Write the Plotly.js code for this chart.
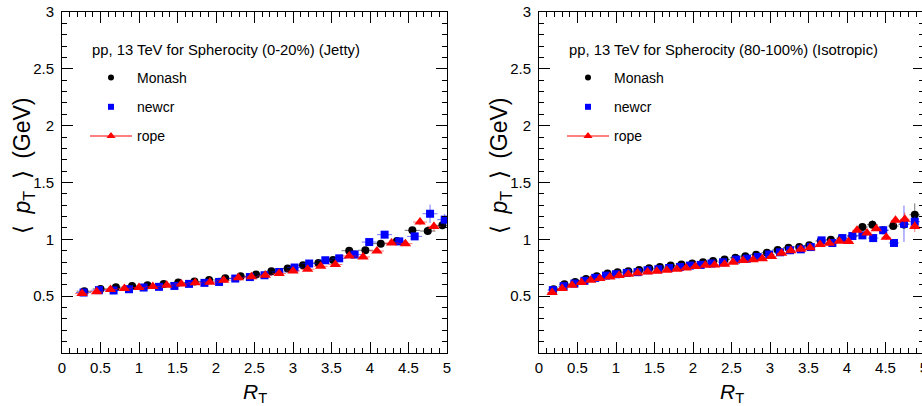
<!DOCTYPE html>
<html>
<head>
<meta charset="utf-8">
<script src="https://cdn.plot.ly/plotly-3.0.1.min.js"></script>
<style>
html,body{margin:0;padding:0;overflow:hidden;background:#fff;}
#chart{width:930px;height:406px;}
</style>
</head>
<body>
<div id="chart"></div>
<script>
// ---------- Data: left panel, Spherocity 0-20% (Jetty) ----------
const jettyMonashX = [0.29,0.50,0.70,0.91,1.11,1.32,1.51,1.72,1.91,2.12,2.32,2.52,2.72,2.93,3.13,3.33,3.52,3.73,3.94,4.14,4.35,4.55,4.75,4.94];
const jettyMonashY = [0.544,0.564,0.579,0.590,0.596,0.608,0.620,0.629,0.643,0.658,0.675,0.690,0.719,0.743,0.772,0.792,0.818,0.900,0.904,0.962,0.985,1.079,1.073,1.123];
const jettyMonashErr = [0.004,0.004,0.004,0.004,0.004,0.004,0.004,0.004,0.004,0.005,0.005,0.005,0.006,0.006,0.007,0.008,0.009,0.010,0.011,0.013,0.015,0.020,0.025,0.035];

const jettyNewcrX = [0.28,0.48,0.67,0.87,1.06,1.26,1.46,1.65,1.85,2.04,2.25,2.44,2.63,2.82,3.02,3.21,3.42,3.60,3.80,3.99,4.19,4.38,4.58,4.78,4.97];
const jettyNewcrY = [0.532,0.553,0.550,0.561,0.576,0.582,0.590,0.608,0.617,0.625,0.655,0.668,0.684,0.713,0.752,0.787,0.816,0.833,0.866,0.976,1.041,0.982,1.026,1.225,1.173];
const jettyNewcrErr = [0.004,0.004,0.004,0.004,0.004,0.004,0.004,0.004,0.004,0.005,0.005,0.005,0.006,0.006,0.007,0.008,0.009,0.010,0.011,0.013,0.020,0.020,0.030,0.080,0.050];

const jettyRopeX = [0.26,0.45,0.63,0.81,1.00,1.18,1.36,1.55,1.73,1.92,2.10,2.29,2.46,2.64,2.82,3.00,3.19,3.36,3.55,3.73,3.91,4.09,4.28,4.46,4.65,4.83];
const jettyRopeY = [0.524,0.538,0.559,0.568,0.576,0.585,0.596,0.608,0.617,0.623,0.640,0.661,0.670,0.684,0.699,0.722,0.737,0.763,0.778,0.854,0.845,0.897,0.968,0.962,1.152,1.114];
const jettyRopeErr = [0.004,0.004,0.004,0.004,0.004,0.004,0.004,0.004,0.004,0.005,0.005,0.005,0.005,0.006,0.006,0.007,0.008,0.008,0.009,0.010,0.011,0.013,0.015,0.020,0.030,0.040];

// ---------- Data: right panel, Spherocity 80-100% (Isotropic) ----------
const isoMonashX = [0.19,0.33,0.47,0.61,0.75,0.89,1.02,1.16,1.30,1.43,1.57,1.71,1.85,1.99,2.13,2.26,2.41,2.55,2.68,2.82,2.96,3.10,3.24,3.38,3.51,3.66,3.79,3.93,4.07,4.20,4.33,4.47,4.60,4.74,4.88];
const isoMonashY = [0.560,0.605,0.625,0.652,0.675,0.699,0.711,0.719,0.731,0.746,0.757,0.769,0.778,0.787,0.798,0.809,0.823,0.838,0.852,0.865,0.882,0.907,0.927,0.933,0.947,0.985,0.997,1.010,1.030,1.108,1.129,1.080,1.117,1.130,1.216];
const isoMonashErr = [0.004,0.004,0.004,0.004,0.004,0.004,0.004,0.004,0.004,0.004,0.004,0.004,0.005,0.005,0.005,0.005,0.005,0.006,0.006,0.006,0.007,0.007,0.008,0.008,0.009,0.010,0.011,0.012,0.014,0.020,0.040,0.030,0.030,0.040,0.100];

const isoNewcrX = [0.18,0.32,0.46,0.59,0.73,0.87,1.00,1.14,1.28,1.41,1.55,1.69,1.83,1.96,2.10,2.24,2.39,2.56,2.70,2.84,2.99,3.13,3.26,3.40,3.53,3.67,3.81,3.94,4.07,4.20,4.34,4.47,4.61,4.74,4.88];
const isoNewcrY = [0.553,0.588,0.611,0.635,0.661,0.681,0.693,0.705,0.711,0.728,0.737,0.748,0.757,0.769,0.775,0.787,0.798,0.822,0.830,0.845,0.866,0.886,0.904,0.912,0.932,0.991,0.968,1.011,1.029,1.035,1.011,1.080,0.968,1.137,1.155];
const isoNewcrErr = [0.004,0.004,0.004,0.004,0.004,0.004,0.004,0.004,0.004,0.004,0.004,0.004,0.005,0.005,0.005,0.005,0.005,0.006,0.006,0.006,0.007,0.007,0.008,0.008,0.009,0.010,0.011,0.012,0.014,0.016,0.020,0.030,0.030,0.160,0.050];

const isoRopeX = [0.17,0.30,0.43,0.55,0.67,0.79,0.92,1.04,1.16,1.28,1.41,1.53,1.66,1.79,1.91,2.03,2.16,2.28,2.41,2.52,2.65,2.78,2.90,3.02,3.15,3.27,3.40,3.52,3.65,3.77,3.90,4.02,4.13,4.26,4.38,4.51,4.63,4.75,4.88];
const isoRopeY = [0.532,0.567,0.596,0.620,0.640,0.655,0.669,0.681,0.693,0.704,0.713,0.719,0.728,0.737,0.748,0.760,0.772,0.775,0.780,0.798,0.813,0.820,0.830,0.848,0.877,0.900,0.912,0.925,0.955,0.965,0.983,0.980,1.079,1.056,1.094,1.018,1.167,1.177,1.114];
const isoRopeErr = [0.004,0.004,0.004,0.004,0.004,0.004,0.004,0.004,0.004,0.004,0.004,0.004,0.004,0.005,0.005,0.005,0.005,0.005,0.005,0.006,0.006,0.006,0.007,0.007,0.008,0.008,0.009,0.009,0.010,0.011,0.012,0.013,0.015,0.017,0.020,0.025,0.040,0.060,0.050];

// ---------- Labels ----------
const xTickVals = [0,0.5,1,1.5,2,2.5,3,3.5,4,4.5,5];
const xTickText = ['0','0.5','1','1.5','2','2.5','3','3.5','4','4.5','5'];
const yTickVals = [0.5,1,1.5,2,2.5,3];
const yTickText = ['0.5','1','1.5','2','2.5','3'];
const seriesNames = ['Monash','newcr','rope'];
const panelTitles = ['pp, 13 TeV for Spherocity (0-20%) (Jetty)','pp, 13 TeV for Spherocity (80-100%) (Isotropic)'];
const xTitle = '<i>R</i><sub>T</sub>';
const yTitle = '\u27E8\u2002<i>p</i><sub>T</sub>\u2002\u27E9\u2002(GeV)';

// ---------- Styles ----------
const FONT = 'Liberation Sans, Arial, Helvetica, sans-serif';
const styles = [
  {symbol:'circle', size:8, color:'#000000', err:'rgba(0,0,0,0.55)'},
  {symbol:'square', size:8, color:'#0000ff', err:'rgba(0,0,255,0.55)'},
  {symbol:'triangle-up', size:10, color:'#ff0000', err:'rgba(255,0,0,0.55)'}
];

function dataTrace(x, y, err, s, xerr, xa, ya) {
  return {
    type:'scatter', mode:'markers', x:x, y:y, xaxis:xa, yaxis:ya, showlegend:false,
    marker:{symbol:s.symbol, size:s.size, color:s.color, line:{width:0}},
    error_x:{type:'constant', value:xerr, width:0, thickness:1, color:s.err},
    error_y:{type:'data', array:err, width:0, thickness:1, color:s.err},
    hoverinfo:'x+y'
  };
}
function legendTrace(name, s, idx, leg, xa, ya) {
  const t = {
    type:'scatter', x:[null], y:[null], xaxis:xa, yaxis:ya, name:name, legend:leg,
    legendgroup:leg+'_'+idx, showlegend:true,
    mode: idx === 2 ? 'lines+markers' : 'markers',
    marker:{symbol:s.symbol, size: idx===2 ? 8 : 6, color:s.color, line:{width:0}}
  };
  if (idx === 2) t.line = {color:s.color, width:1};
  return t;
}

const traces = [
  dataTrace(jettyMonashX, jettyMonashY, jettyMonashErr, styles[0], 0.10, 'x', 'y'),
  dataTrace(jettyNewcrX, jettyNewcrY, jettyNewcrErr, styles[1], 0.097, 'x', 'y'),
  dataTrace(jettyRopeX, jettyRopeY, jettyRopeErr, styles[2], 0.09, 'x', 'y'),
  dataTrace(isoMonashX, isoMonashY, isoMonashErr, styles[0], 0.07, 'x2', 'y2'),
  dataTrace(isoNewcrX, isoNewcrY, isoNewcrErr, styles[1], 0.068, 'x2', 'y2'),
  dataTrace(isoRopeX, isoRopeY, isoRopeErr, styles[2], 0.062, 'x2', 'y2')
];
seriesNames.forEach((n,i)=>traces.push(legendTrace(n, styles[i], i, 'legend', 'x', 'y')));
seriesNames.forEach((n,i)=>traces.push(legendTrace(n, styles[i], i, 'legend2', 'x2', 'y2')));

// geometry (pixels)
const W = 930, H = 406, ML = 62, MR = 6, MT = 12, MB = 53;
const PW = W - ML - MR, PH = H - MT - MB;
const leftDom = [0, 385/PW];
const rightDom = [(539-ML)/PW, 1];
const px2x = p => (p - ML) / PW;
const py2y = p => (H - MB - p) / PH;

function xAxis(dom, anchor) {
  return {
    domain:dom, anchor:anchor, range:[0,5], autorange:false,
    showline:true, linecolor:'#000', linewidth:1, mirror:'ticks',
    ticks:'inside', ticklen:11, tickwidth:1, tickcolor:'#000',
    tickvals:xTickVals, ticktext:xTickText, ticklabelstandoff:1,
    minor:{dtick:0.1, tick0:0, ticks:'inside', ticklen:5, tickwidth:1, tickcolor:'#000'},
    showgrid:false, zeroline:false,
    tickfont:{family:FONT, size:15, color:'#000'}
  };
}
function yAxis(anchor) {
  return {
    domain:[0,1], anchor:anchor, range:[0,3], autorange:false,
    showline:true, linecolor:'#000', linewidth:1, mirror:'ticks',
    ticks:'inside', ticklen:11, tickwidth:1, tickcolor:'#000',
    tickvals:yTickVals, ticktext:yTickText, ticklabelstandoff:4,
    minor:{dtick:0.1, tick0:0, ticks:'inside', ticklen:5, tickwidth:1, tickcolor:'#000'},
    showgrid:false, zeroline:false,
    tickfont:{family:FONT, size:15, color:'#000'}
  };
}
function legendCfg(px) {
  return {
    x:px2x(px), xanchor:'left', y:py2y(62), yanchor:'top',
    bgcolor:'rgba(0,0,0,0)', borderwidth:0, itemwidth:42,
    traceorder:'grouped', tracegroupgap:8,
    font:{family:FONT, size:14, color:'#000'}
  };
}

const annotations = [];
[leftDom, rightDom].forEach((dom, i) => {
  const off = i === 0 ? 0 : 477;
  annotations.push({
    xref:'paper', yref:'paper', x:(dom[0]+dom[1])/2 , y:-40/PH, xanchor:'center', yanchor:'middle',
    text:xTitle, showarrow:false, font:{family:FONT, size:21, color:'#000'}
  });
  annotations.push({
    xref:'paper', yref:'paper', x:dom[0] - 39/PW, y:py2y(166), xanchor:'center', yanchor:'middle',
    text:yTitle, textangle:-90, showarrow:false, font:{family:FONT, size:23, color:'#000'}
  });
  annotations.push({
    xref:'paper', yref:'paper', x:px2x(90 + off), y:py2y(50), xanchor:'left', yanchor:'middle',
    text:panelTitles[i], showarrow:false, font:{family:FONT, size:14.8, color:'#000'}
  });
});

const layout = {
  width:W, height:H,
  margin:{l:ML, r:MR, t:MT, b:MB, pad:0},
  paper_bgcolor:'#fff', plot_bgcolor:'#fff',
  font:{family:FONT, color:'#000'},
  xaxis:xAxis(leftDom, 'y'), yaxis:yAxis('x'),
  xaxis2:xAxis(rightDom, 'y2'), yaxis2:yAxis('x2'),
  legend:legendCfg(85),
  legend2:legendCfg(85+477),
  annotations:annotations
};

Plotly.newPlot('chart', traces, layout, {staticPlot:true, displayModeBar:false});
</script>
</body>
</html>
